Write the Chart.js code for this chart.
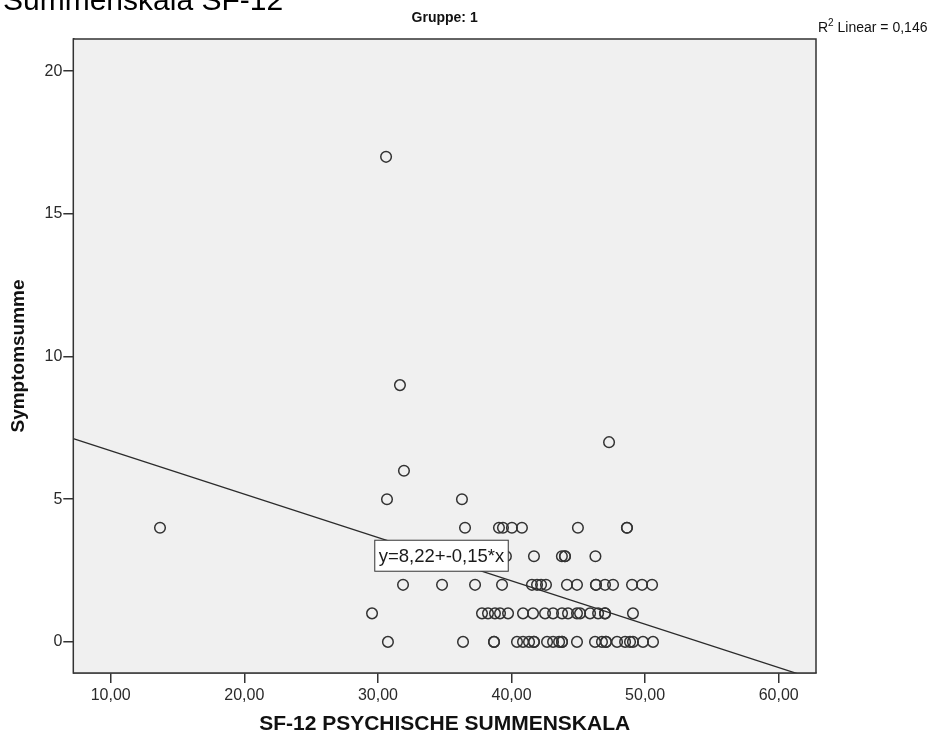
<!DOCTYPE html>
<html>
<head>
<meta charset="utf-8">
<script src="https://cdn.jsdelivr.net/npm/chart.js@4.4.1/dist/chart.umd.min.js"></script>
<style>
  html, body { margin: 0; padding: 0; background: #fff; overflow: hidden; }
  #wrap { position: relative; width: 949px; height: 743px; }
  #head { position: absolute; left: 3px; top: -15px; font: 30px/30px "Liberation Sans", Arial, sans-serif; color: #000; white-space: nowrap; }
</style>
</head>
<body>
<div id="wrap">
  <canvas id="chart" width="949" height="743"></canvas>
  <div id="head">Summenskala SF-12</div>
</div>
<script>
// SF-12 psychische Summenskala (x) und Symptomsumme (y), ein Eintrag pro Person
const sfScores = [
  30.61, 31.65, 47.30, 31.95, 30.68, 36.29,
  13.69, 36.52, 39.06, 39.36, 40.03, 40.78, 44.97, 48.64, 48.64,
  39.58, 41.68, 43.77, 44.00, 44.00, 46.28,
  31.88, 34.80, 37.27, 39.29, 41.53, 41.91, 42.21, 42.58, 44.15, 44.90, 46.32, 46.32, 47.00, 47.60, 49.02, 49.77, 50.52,
  29.56, 37.79, 38.24, 38.76, 39.14, 39.74, 40.86, 41.61, 42.51, 43.11, 43.78, 44.23, 44.90, 45.13, 45.88, 46.48, 47.00, 47.00, 49.09,
  30.75, 36.37, 38.69, 38.69, 40.41, 40.86, 41.31, 41.68, 41.68, 42.66, 43.11, 43.56, 43.78, 43.78, 44.90, 46.25, 46.77, 47.07, 47.07, 47.90, 48.50, 48.87, 49.09, 49.84, 50.59
];
const symptomSums = [
  17, 9, 7, 6, 5, 5,
  4, 4, 4, 4, 4, 4, 4, 4, 4,
  3, 3, 3, 3, 3, 3,
  2, 2, 2, 2, 2, 2, 2, 2, 2, 2, 2, 2, 2, 2, 2, 2, 2,
  1, 1, 1, 1, 1, 1, 1, 1, 1, 1, 1, 1, 1, 1, 1, 1, 1, 1, 1,
  0, 0, 0, 0, 0, 0, 0, 0, 0, 0, 0, 0, 0, 0, 0, 0, 0, 0, 0, 0, 0, 0, 0, 0, 0
];

const xTicks = [10, 20, 30, 40, 50, 60];
const yTicks = [0, 5, 10, 15, 20];
const xRange = [7.2, 62.79];
const yRange = [-1.09, 21.13];

// lineare Anpassung
const fitIntercept = 8.22;
const fitSlope = -0.152;
const fitLabel = 'y=8,22+-0,15*x';
const fitLabelAt = [34.76, 3.02];
const rSquaredText = ' Linear = 0,146';
const groupTitle = 'Gruppe: 1';

const points = sfScores.map((x, i) => ({ x: x, y: symptomSums[i] }));
const fitLine = xRange.map(x => ({ x: x, y: fitIntercept + fitSlope * x }));

const fontFamily = '"Liberation Sans", Arial, sans-serif';

const framePlugin = {
  id: 'spssFrame',
  beforeDatasetsDraw(chart) {
    const { ctx, chartArea: a } = chart;
    ctx.save();
    ctx.fillStyle = '#f0f0f0';
    ctx.fillRect(a.left, a.top, a.right - a.left, a.bottom - a.top);
    ctx.restore();
  },
  afterDraw(chart) {
    const { ctx, chartArea: a } = chart;
    const xs = chart.scales.x, ys = chart.scales.y;
    ctx.save();
    ctx.strokeStyle = '#333';
    ctx.lineWidth = 1.5;
    ctx.strokeRect(a.left, a.top, a.right - a.left, a.bottom - a.top);

    // Beschriftung der Regressionsgeraden
    ctx.font = '18.5px ' + fontFamily;
    const tw = ctx.measureText(fitLabel).width;
    const cx = xs.getPixelForValue(fitLabelAt[0]);
    const cy = ys.getPixelForValue(fitLabelAt[1]);
    const bw = tw + 8, bh = 31;
    ctx.fillStyle = '#fff';
    ctx.fillRect(cx - bw / 2, cy - bh / 2, bw, bh);
    ctx.strokeStyle = '#333';
    ctx.lineWidth = 1;
    ctx.strokeRect(cx - bw / 2, cy - bh / 2, bw, bh);
    ctx.fillStyle = '#1a1a1a';
    ctx.textAlign = 'center';
    ctx.textBaseline = 'middle';
    ctx.fillText(fitLabel, cx, cy + 1);

    // Gruppentitel
    ctx.font = 'bold 14px ' + fontFamily;
    ctx.fillStyle = '#111';
    ctx.fillText(groupTitle, (a.left + a.right) / 2, 18);

    // R-Quadrat
    ctx.textAlign = 'left';
    ctx.font = '14px ' + fontFamily;
    let x0 = a.right + 2;
    ctx.fillText('R', x0, 28);
    x0 += ctx.measureText('R').width;
    ctx.font = '10px ' + fontFamily;
    ctx.fillText('2', x0, 23);
    x0 += ctx.measureText('2').width;
    ctx.font = '14px ' + fontFamily;
    ctx.fillText(rSquaredText, x0, 28);
    ctx.restore();
  }
};

new Chart(document.getElementById('chart'), {
  type: 'scatter',
  data: {
    datasets: [
      {
        type: 'line',
        data: fitLine,
        borderColor: '#2b2b2b',
        borderWidth: 1.3,
        pointRadius: 0,
        fill: false
      },
      {
        data: points,
        pointStyle: 'circle',
        pointRadius: 5.3,
        borderWidth: 1.5,
        borderColor: '#333',
        backgroundColor: 'rgba(0,0,0,0)'
      }
    ]
  },
  options: {
    responsive: false,
    animation: false,
    layout: { padding: { top: 39, right: 133, left: 0, bottom: 0 } },
    plugins: {
      legend: { display: false },
      tooltip: { enabled: false }
    },
    scales: {
      x: {
        type: 'linear',
        min: xRange[0],
        max: xRange[1],
        afterBuildTicks: scale => { scale.ticks = xTicks.map(v => ({ value: v })); },
        afterFit: scale => { scale.height = 70; },
        border: { color: '#333', width: 1.5 },
        grid: { drawOnChartArea: false, drawTicks: true, tickLength: 10, color: '#333', lineWidth: 1.5 },
        ticks: {
          color: '#2a2a2a',
          padding: 3,
          maxRotation: 0,
          font: { family: fontFamily, size: 16 },
          callback: v => v.toFixed(2).replace('.', ',')
        },
        title: {
          display: true,
          text: 'SF-12 PSYCHISCHE SUMMENSKALA',
          color: '#111',
          padding: { top: 0, bottom: 8 },
          font: { family: fontFamily, size: 21, weight: 'bold', lineHeight: 1 }
        }
      },
      y: {
        type: 'linear',
        min: yRange[0],
        max: yRange[1],
        afterBuildTicks: scale => { scale.ticks = yTicks.map(v => ({ value: v })); },
        afterFit: scale => { scale.width = 73.3; },
        border: { color: '#333', width: 1.5 },
        grid: { drawOnChartArea: false, drawTicks: true, tickLength: 10, color: '#333', lineWidth: 1.5 },
        ticks: {
          color: '#2a2a2a',
          padding: 1,
          font: { family: fontFamily, size: 16 },
          callback: v => String(v)
        },
        title: {
          display: true,
          text: 'Symptomsumme',
          color: '#111',
          padding: { top: 9, bottom: 0 },
          font: { family: fontFamily, size: 19, weight: 'bold', lineHeight: 1 }
        }
      }
    }
  },
  plugins: [framePlugin]
});
</script>
</body>
</html>
